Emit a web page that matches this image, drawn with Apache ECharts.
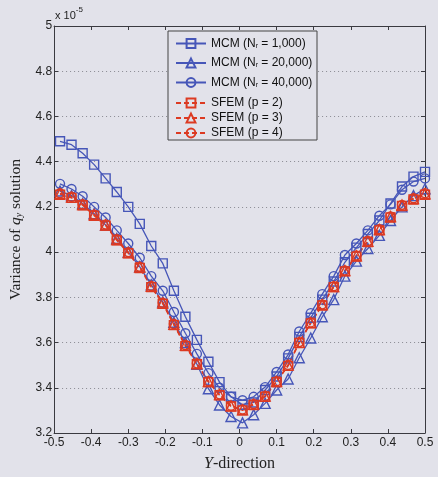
<!DOCTYPE html>
<html>
<head>
<meta charset="utf-8">
<script src="https://cdn.jsdelivr.net/npm/echarts@6/dist/echarts.min.js"></script>
<style>
  html, body { margin: 0; padding: 0; background: #e2e2ea; }
  #chart { width: 438px; height: 477px; }
</style>
</head>
<body>
<div id="chart"></div>
<script>
// Y-direction positions
const yDir = [-0.484, -0.453, -0.423, -0.392, -0.361, -0.331, -0.300, -0.269, -0.238, -0.207, -0.177,
  -0.146, -0.115, -0.084, -0.054, -0.023, 0.008, 0.038, 0.069, 0.100, 0.131, 0.161, 0.192,
  0.223, 0.254, 0.284, 0.315, 0.346, 0.377, 0.407, 0.438, 0.469, 0.500]

// variance of q_y (x 1e-5)
const mcm1000 = [4.49, 4.475, 4.437, 4.387, 4.326, 4.266, 4.20, 4.125, 4.027, 3.95, 3.829,
  3.714, 3.612, 3.515, 3.425, 3.36, 3.325, 3.335, 3.39, 3.45, 3.53, 3.625, 3.71,
  3.79, 3.87, 3.955, 4.02, 4.08, 4.14, 4.215, 4.29, 4.334, 4.355]
const mcm20000 = [4.27, 4.25, 4.215, 4.17, 4.12, 4.06, 4.0, 3.935, 3.855, 3.78, 3.69,
  3.60, 3.504, 3.396, 3.324, 3.273, 3.245, 3.281, 3.331, 3.39, 3.439, 3.533, 3.62,
  3.714, 3.79, 3.894, 3.96, 4.016, 4.074, 4.14, 4.20, 4.25, 4.28]
const mcm40000 = [4.302, 4.279, 4.247, 4.20, 4.153, 4.096, 4.038, 3.975, 3.894, 3.829, 3.735,
  3.641, 3.55, 3.465, 3.40, 3.36, 3.345, 3.36, 3.403, 3.47, 3.547, 3.649, 3.73,
  3.814, 3.894, 3.987, 4.038, 4.096, 4.161, 4.211, 4.276, 4.312, 4.326]
const sfem2 = [4.254, 4.24, 4.207, 4.161, 4.117, 4.052, 3.995, 3.93, 3.845, 3.771, 3.677,
  3.584, 3.504, 3.425, 3.367, 3.317, 3.30, 3.324, 3.36, 3.425, 3.497, 3.598, 3.685,
  3.764, 3.845, 3.915, 3.98, 4.045, 4.096, 4.153, 4.204, 4.233, 4.254]
const sfem3 = [4.258, 4.243, 4.21, 4.165, 4.12, 4.056, 3.998, 3.934, 3.849, 3.775, 3.681,
  3.588, 3.507, 3.428, 3.37, 3.32, 3.303, 3.327, 3.363, 3.428, 3.5, 3.601, 3.688,
  3.768, 3.848, 3.918, 3.984, 4.048, 4.1, 4.157, 4.208, 4.237, 4.258]
const sfem4 = [4.26, 4.245, 4.212, 4.166, 4.122, 4.057, 4.0, 3.935, 3.85, 3.776, 3.682,
  3.589, 3.508, 3.429, 3.371, 3.321, 3.304, 3.328, 3.364, 3.429, 3.501, 3.602, 3.689,
  3.769, 3.849, 3.919, 3.985, 4.049, 4.101, 4.158, 4.209, 4.238, 4.26]

const xTicks = ['-0.5', '-0.4', '-0.3', '-0.2', '-0.1', '0', '0.1', '0.2', '0.3', '0.4', '0.5']

const BLUE = '#4656b8'
const RED = '#dc3a22'
const BG = '#e2e2ea'
const AXIS = '#3a3a40'
const SANS = 'Liberation Sans'
const SERIF = 'Liberation Serif'

const mcmNames = ['MCM (Nr = 1,000)', 'MCM (Nr = 20,000)', 'MCM (Nr = 40,000)']
const sfemNames = ['SFEM (p = 2)', 'SFEM (p = 3)', 'SFEM (p = 4)']

function pairs(vals) {
  return yDir.map((x, i) => [x, vals[i]])
}

function makeSeries(name, vals, color, symbol, dashed) {
  return {
    name: name,
    type: 'line',
    data: pairs(vals),
    symbol: symbol,
    symbolSize: symbol === 'triangle' ? 10 : 9,
    showAllSymbol: true,
    animation: false,
    itemStyle: { color: 'rgba(0,0,0,0)', borderColor: color, borderWidth: 1.4 },
    lineStyle: { color: color, width: 1.3, type: dashed ? [5, 3] : 'solid' },
    emphasis: { disabled: true }
  }
}

const legendRich = {
  n: { fontFamily: SANS, fontSize: 12, color: '#111', lineHeight: 12 },
  s: { fontFamily: SANS, fontSize: 7, color: '#111', lineHeight: 12, verticalAlign: 'bottom', padding: [5, 0, 0, 0] }
}

function legendFmt(name) {
  if (name.indexOf('Nr') >= 0) {
    const parts = name.split('Nr')
    return '{n|' + parts[0] + 'N}{s|r}{n|' + parts[1] + '}'
  }
  return '{n|' + name + '}'
}

const chart = echarts.init(document.getElementById('chart'), null, { renderer: 'canvas' })

const boxAxis = { onZero: false, show: true, lineStyle: { color: AXIS, width: 1 } }
const boxTick = { show: true, inside: true, length: 4, lineStyle: { color: AXIS } }

chart.setOption({
  backgroundColor: BG,
  animation: false,
  grid: { left: 53, right: 13, top: 26, bottom: 35, containLabel: false },
  legend: [{
    data: mcmNames,
    orient: 'vertical',
    left: 170, top: 32.5,
    itemWidth: 30, itemHeight: 11, itemGap: 7.5,
    formatter: legendFmt,
    textStyle: { rich: legendRich },
    selectedMode: false,
    z: 20
  }, {
    data: sfemNames,
    orient: 'vertical',
    left: 170, top: 92,
    itemWidth: 30, itemHeight: 11, itemGap: 3,
    formatter: legendFmt,
    textStyle: { rich: legendRich },
    selectedMode: false,
    z: 20
  }],
  graphic: [{
    type: 'rect',
    shape: { x: 168, y: 31, width: 149, height: 109 },
    style: { fill: BG, stroke: '#444', lineWidth: 1 },
    z: 15
  }, {
    type: 'text',
    left: 55, top: 6,
    style: {
      text: '{a|x 10}{b|-5}',
      rich: {
        a: { fontFamily: SANS, fontSize: 11, fill: '#222', padding: [4, 0, 0, 0] },
        b: { fontFamily: SANS, fontSize: 8, fill: '#222', verticalAlign: 'top' }
      }
    },
    z: 20
  }],
  xAxis: [{
    type: 'value',
    min: -0.5, max: 0.5, interval: 0.1,
    name: '{i|Y}{t|-direction}',
    nameLocation: 'middle',
    nameGap: 23,
    nameTextStyle: {
      rich: {
        i: { fontFamily: SERIF, fontStyle: 'italic', fontSize: 16, color: '#222' },
        t: { fontFamily: SERIF, fontSize: 16, color: '#222' }
      }
    },
    axisLine: boxAxis,
    axisTick: boxTick,
    axisLabel: {
      margin: 4,
      fontFamily: SANS, fontSize: 12, color: '#222',
      formatter: v => xTicks[Math.round((v + 0.5) * 10)]
    },
    splitLine: { show: false }
  }, {
    type: 'value',
    position: 'top',
    min: -0.5, max: 0.5, interval: 0.1,
    axisLine: boxAxis,
    axisTick: boxTick,
    axisLabel: { show: false },
    splitLine: { show: false }
  }],
  yAxis: [{
    type: 'value',
    min: 3.2, max: 5, interval: 0.2,
    name: '{t|Variance of }{q|q}{s|y}{t| solution}',
    nameLocation: 'middle',
    nameGap: 26,
    nameTextStyle: {
      rich: {
        t: { fontFamily: SERIF, fontSize: 15.5, color: '#222' },
        q: { fontFamily: SERIF, fontStyle: 'italic', fontSize: 15.5, color: '#222' },
        s: { fontFamily: SERIF, fontStyle: 'italic', fontSize: 10, color: '#222', verticalAlign: 'bottom', padding: [7, 0, 0, 0] }
      }
    },
    axisLine: boxAxis,
    axisTick: boxTick,
    axisLabel: {
      margin: 2,
      fontFamily: SANS, fontSize: 12, color: '#222',
      formatter: v => String(Math.round(v * 10) / 10)
    },
    splitLine: { show: true, lineStyle: { color: '#8a8a92', type: [1, 3], width: 1 } }
  }, {
    type: 'value',
    position: 'right',
    min: 3.2, max: 5, interval: 0.2,
    axisLine: boxAxis,
    axisTick: boxTick,
    axisLabel: { show: false },
    splitLine: { show: false }
  }],
  series: [
    makeSeries(mcmNames[0], mcm1000, BLUE, 'rect', false),
    makeSeries(mcmNames[1], mcm20000, BLUE, 'triangle', false),
    makeSeries(mcmNames[2], mcm40000, BLUE, 'circle', false),
    makeSeries(sfemNames[0], sfem2, RED, 'rect', true),
    makeSeries(sfemNames[1], sfem3, RED, 'triangle', true),
    makeSeries(sfemNames[2], sfem4, RED, 'circle', true)
  ]
})
</script>
</body>
</html>
